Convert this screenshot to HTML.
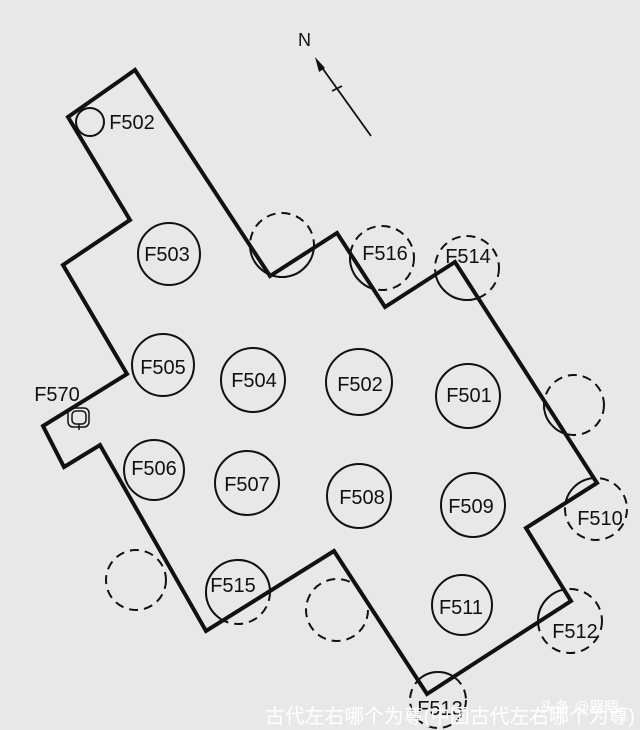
<!DOCTYPE html>
<html><head><meta charset="utf-8"><style>
html,body{margin:0;padding:0;background:#e8e8e8;}
svg{display:block;}
text{font-family:"Liberation Sans","Noto Sans CJK SC",sans-serif;fill:#111;}
</style></head><body>
<svg width="640" height="730" viewBox="0 0 640 730" xmlns="http://www.w3.org/2000/svg">
<rect width="640" height="730" fill="#e8e8e8"/>
<defs>
<clipPath id="poly"><polygon points="68,117 135,70 270,276 337,233 385,307 455,262 597,483 526,528 571,601 427,694 334,551 206,631 100,445 64,467 43,426 127,374 63,265 130,220"/></clipPath>
</defs>
<g fill="none" stroke="#111" stroke-width="2" stroke-dasharray="9,6">
<circle cx="282" cy="245" r="32"/>
<circle cx="382" cy="258" r="32"/>
<circle cx="467" cy="268" r="32"/>
<circle cx="574" cy="405" r="30"/>
<circle cx="596" cy="509" r="31"/>
<circle cx="570" cy="621" r="32"/>
<circle cx="438" cy="700" r="28"/>
<circle cx="337" cy="610" r="31"/>
<circle cx="136" cy="580" r="30"/>
<circle cx="238" cy="592" r="32"/>
</g>
<g fill="#e8e8e8" stroke="#111" stroke-width="2" clip-path="url(#poly)">
<circle cx="282" cy="245" r="32"/>
<circle cx="382" cy="258" r="32"/>
<circle cx="467" cy="268" r="32"/>
<circle cx="574" cy="405" r="30"/>
<circle cx="596" cy="509" r="31"/>
<circle cx="570" cy="621" r="32"/>
<circle cx="438" cy="700" r="28"/>
<circle cx="238" cy="592" r="32"/>
</g>
<g fill="none" stroke="#111" stroke-width="2">
<ellipse cx="90" cy="122" rx="14" ry="14"/>
<circle cx="169" cy="254" r="31"/>
<circle cx="163" cy="365" r="31"/>
<circle cx="253" cy="380" r="32"/>
<circle cx="359" cy="382" r="33"/>
<circle cx="468" cy="396" r="32"/>
<circle cx="154" cy="470" r="30"/>
<circle cx="247" cy="483" r="32"/>
<circle cx="359" cy="496" r="32"/>
<circle cx="473" cy="505" r="32"/>
<circle cx="462" cy="605" r="30"/>
</g>
<polygon points="68,117 135,70 270,276 337,233 385,307 455,262 597,483 526,528 571,601 427,694 334,551 206,631 100,445 64,467 43,426 127,374 63,265 130,220" fill="none" stroke="#111" stroke-width="4" stroke-linejoin="miter"/>
<g fill="none" stroke="#111" stroke-width="1.5">
<rect x="68" y="408" width="21" height="19" rx="5"/>
<rect x="72" y="411" width="14" height="13" rx="4"/>
<line x1="79" y1="424" x2="79" y2="430"/>
</g>
<line x1="371" y1="136" x2="318" y2="62" stroke="#111" stroke-width="1.8"/>
<polygon points="315,57 325,68 319,72" fill="#111"/>
<line x1="332" y1="91" x2="342" y2="86" stroke="#111" stroke-width="1.8"/>
<text x="298" y="46" font-size="18">N</text>
<g font-size="20" text-anchor="middle">
<text x="132" y="129">F502</text>
<text x="167" y="261">F503</text>
<text x="163" y="374">F505</text>
<text x="254" y="387">F504</text>
<text x="360" y="391">F502</text>
<text x="469" y="402">F501</text>
<text x="154" y="475">F506</text>
<text x="247" y="491">F507</text>
<text x="362" y="504">F508</text>
<text x="471" y="513">F509</text>
<text x="461" y="614">F511</text>
<text x="233" y="592">F515</text>
<text x="385" y="260">F516</text>
<text x="468" y="263">F514</text>
<text x="600" y="525">F510</text>
<text x="575" y="638">F512</text>
<text x="440" y="715">F513</text>
<text x="57" y="401">F570</text>
</g>
<text x="265" y="723" font-size="20" fill="#fff" style="fill:#fff" textLength="370" lengthAdjust="spacingAndGlyphs">古代左右哪个为尊(中国古代左右哪个为尊)</text>
<text x="540" y="712" font-size="15" style="fill:#fff">头条 @器晤</text>
</svg>
</body></html>
